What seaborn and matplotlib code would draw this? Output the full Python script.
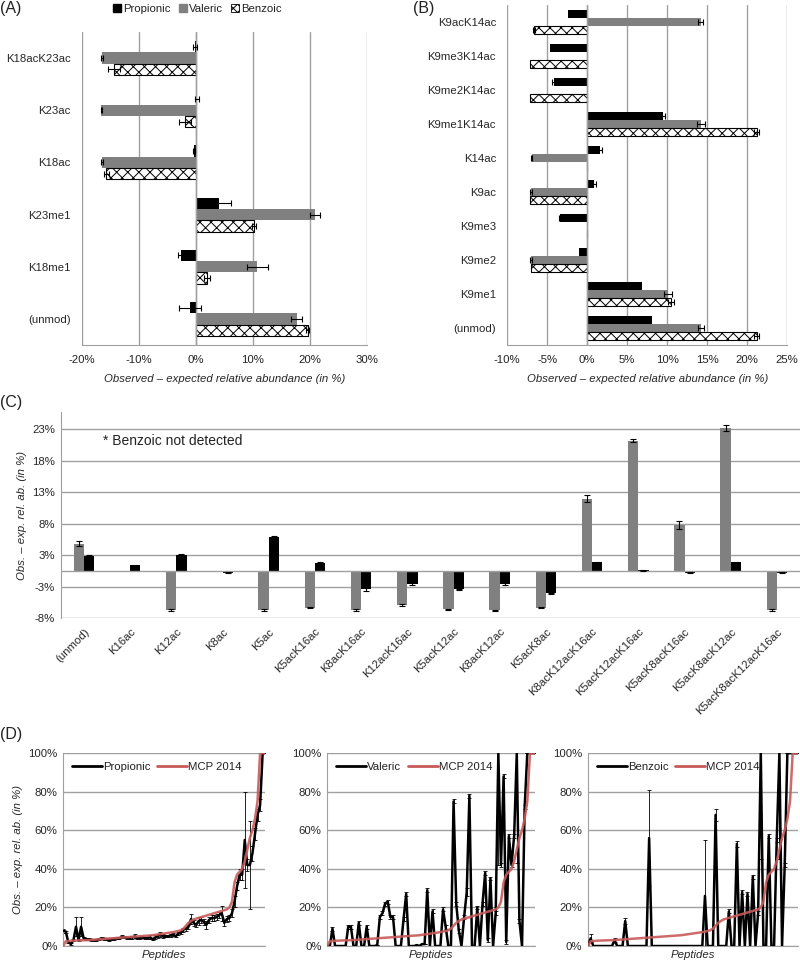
import numpy as np
import pandas as pd
import seaborn as sns
from matplotlib import pyplot as plt
from matplotlib.patches import Patch
from matplotlib.lines import Line2D
from matplotlib.ticker import FuncFormatter

ACIDS = ["Propionic", "Valeric", "Benzoic"]
PALETTE = {"Propionic": "#000000", "Valeric": "#808080", "Benzoic": "#ffffff"}
GRID = "#a0a0a0"
RED = "#c85a5a"
FS = 8.2

# (A) H4 peptides
cats_a = ["K18acK23ac", "K23ac", "K18ac", "K23me1", "K18me1", "(unmod)"]
prop_a = [-0.2, 0.2, -0.3, 4.1, -2.6, -1.0]
prop_a_err = [0.4, 0.3, 0.2, 2.0, 0.5, 1.9]
val_a = [-16.5, -16.6, -16.5, 20.9, 10.8, 17.7]
val_a_err = [0.1, 0.1, 0.1, 0.8, 1.8, 1.0]
benz_a = [-14.4, -1.9, -15.7, 10.2, 1.9, 19.6]
benz_a_err = [1.0, 1.0, 0.5, 0.3, 0.5, 0.3]

# (B) H3 K9/K14 peptides
cats_b = ["K9acK14ac", "K9me3K14ac", "K9me2K14ac", "K9me1K14ac", "K14ac",
          "K9ac", "K9me3", "K9me2", "K9me1", "(unmod)"]
prop_b = [-2.4, -4.6, -4.2, 9.5, 1.6, 0.9, -3.35, -1.0, 6.9, 8.1]
prop_b_err = [0, 0, 0.2, 0.2, 0.2, 0.2, 0.2, 0, 0, 0]
val_b = [14.2, 0, 0, 14.2, -6.95, -7.0, 0, -7.0, 10.1, 14.2]
val_b_err = [0.3, 0, 0, 0.5, 0.1, 0.1, 0, 0.1, 0.5, 0.4]
benz_b = [-6.65, -7.1, -7.1, 21.2, 0, -7.1, 0, -7.05, 10.5, 21.2]
benz_b_err = [0.1, 0, 0, 0.3, 0, 0, 0, 0, 0.4, 0.3]

# (C) H4 K5-K16 acetylations
cats_c = ["(unmod)", "K16ac", "K12ac", "K8ac", "K5ac", "K5acK16ac", "K8acK16ac",
          "K12acK16ac", "K5acK12ac", "K8acK12ac", "K5acK8ac", "K8acK12acK16ac",
          "K5acK12acK16ac", "K5acK8acK16ac", "K5acK8acK12ac", "K5acK8acK12acK16ac"]
val_c = [4.3, 0, -6.2, 0, -6.2, -5.8, -6.2, -5.4, -6.1, -6.25, -5.8, 11.5, 20.7, 7.3, 22.7, -6.2]
val_c_err = [0.4, 0, 0.1, 0, 0.1, 0.1, 0.1, 0.1, 0.1, 0.1, 0.1, 0.6, 0.2, 0.7, 0.5, 0.1]
prop_c = [2.4, 0.9, 2.6, -0.3, 5.4, 1.3, -2.8, -2.0, -2.9, -2.0, -3.55, 1.4, 0.1, -0.3, 1.4, -0.3]
prop_c_err = [0.2, 0.1, 0.1, 0.1, 0.1, 0.2, 0.3, 0.2, 0.1, 0.3, 0.1, 0.1, 0.1, 0.1, 0.1, 0.1]

# (D) all peptides, sorted by MCP 2014 reference
mcp_2014 = [0, 2.5, 2.6, 2.7, 2.8, 2.85, 2.9, 2.95, 3.0, 3.05,
            3.1, 3.2, 3.3, 3.4, 3.5, 3.6, 3.7, 3.8, 3.9, 4.0,
            4.1, 4.2, 4.3, 4.4, 4.5, 4.6, 4.7, 4.8, 4.9, 5.0,
            5.1, 5.2, 5.3, 5.4, 5.5, 5.6, 5.8, 6.0, 6.2, 6.4,
            6.6, 6.8, 7.0, 7.2, 7.5, 7.8, 8.2, 9.0, 10.5, 12.0,
            13.0, 13.8, 14.2, 14.6, 15.0, 15.4, 15.8, 16.2, 16.6, 17.0,
            17.4, 17.8, 18.2, 18.6, 19.0, 20.0, 23.0, 33.0, 37.0, 38.5,
            40.0, 44.0, 50.0, 56.0, 60.0, 66.0, 75.0, 100, 100, 100]
prop_d = [8, 7.5, 2, 1, 3, 10, 3, 10, 4, 3.5,
          3.5, 3.2, 3, 3, 3.5, 4, 3.8, 3.5, 3, 3.5,
          3.7, 4, 4, 4.8, 4.5, 4, 4.2, 4.5, 5, 4,
          4.3, 4.5, 4, 4.2, 4.5, 3.5, 4.5, 5, 6, 5,
          5, 5, 5.5, 6, 5, 6.5, 7, 8.5, 9, 10,
          14, 12, 11, 13, 13.5, 12.5, 11, 13.5, 14.5, 14.5,
          15, 16, 17, 12, 14, 14.5, 17, 23, 31, 37,
          37, 55, 42, 42, 48, 58, 68, 73, 100, 100]
prop_d_err = [1, 0.5, 0.5, 0.5, 0.5, 5, 0.5, 5, 0.5, 0.5,
              0.5, 0.5, 0.5, 0.5, 0.5, 0.5, 0.5, 0.5, 0.5, 0.5,
              0.5, 0.5, 0.5, 0.8, 0.5, 0.5, 0.5, 0.8, 1, 0.5,
              0.5, 0.5, 0.5, 0.5, 1, 0.5, 1, 1, 1.5, 1,
              0.5, 0.5, 1, 1, 0.5, 1, 1, 1, 1, 1,
              2.5, 1.5, 1, 2, 1.5, 1.5, 2, 1.5, 1.5, 1.5,
              1.5, 1.5, 4, 1.5, 1.5, 1.5, 2, 3, 2, 3,
              3, 25, 3, 23, 4, 3, 3, 3, 0, 0]
val_d = [0, 0, 9, 0, 0, 0, 0, 0, 10, 10,
         0, 0, 12, 0, 0, 10, 0, 0, 0, 0.5,
         15, 17, 22, 23, 15, 15, 0, 0, 0, 14,
         27, 0, 0, 0, 0.5, 0, 1, 1, 29, 0,
         18, 0, 0, 0, 19, 10, 0, 0, 75, 22,
         8, 0, 15, 28, 78, 0, 0, 20, 0, 22,
         38, 3, 35, 0, 17, 100, 42, 88, 2, 57,
         42, 57, 100, 13, 0, 72, 100, 100, 100, 100]
val_d_err = [0, 0, 1, 0, 0, 0, 0, 0, 1, 1,
             0, 0, 1, 0, 0, 1, 0, 0, 0, 0,
             1, 1, 1, 1, 1, 1, 0, 0, 0, 1,
             1, 0, 0, 0, 0, 0, 0, 0, 1, 0,
             1, 0, 0, 0, 1, 1, 0, 0, 1, 1,
             1, 0, 1, 2, 1, 0, 0, 1, 0, 1,
             1, 1, 1, 0, 1, 58, 1, 1, 1, 1,
             1, 1, 57, 1, 0, 1, 0, 0, 0, 0]
benz_d = [0, 4, 0, 0, 0, 0, 0, 0, 0, 0,
          3, 0, 0, 0, 13, 0, 0, 0, 0, 0,
          0, 0, 0, 56, 0, 0, 0, 0, 0, 0,
          0, 0, 0, 0, 0, 0, 0, 0, 0, 0,
          0, 0, 0, 0, 26, 0, 0, 0, 68, 0,
          0, 0, 0, 18, 0, 0, 53, 0, 28, 0,
          27, 0, 36, 0, 17, 100, 0, 0, 57, 0,
          0, 55, 100, 0, 42, 100, 100, 100, 100, 100]
benz_d_err = [0, 2, 0, 0, 0, 0, 0, 0, 0, 0,
              1, 0, 0, 0, 1.5, 0, 0, 0, 0, 0,
              0, 0, 0, 25, 0, 0, 0, 0, 0, 0,
              0, 0, 0, 0, 0, 0, 0, 0, 0, 0,
              0, 0, 0, 0, 29, 0, 0, 0, 3, 0,
              0, 0, 0, 1, 0, 0, 1.5, 0, 1, 0,
              1, 0, 1, 0, 1, 55, 0, 0, 1, 0,
              0, 1, 55, 0, 1, 0, 0, 0, 0, 0]


def excel_pct(v, _pos=None):
    """Format like Excel: round half away from zero."""
    r = int(np.sign(v) * np.floor(abs(v) + 0.5))
    return f"{r}%"


def long_frame(cats, series):
    rows = []
    for acid, (vals, errs) in series.items():
        for cat, v, e in zip(cats, vals, errs):
            rows.append({"peptide": cat, "acid": acid, "value": v, "err": e})
    return pd.DataFrame(rows)


def bar_panel(ax, cats, series, horizontal, width):
    df = long_frame(cats, series)
    hue_order = list(series.keys())
    pal = {k: PALETTE[k] for k in hue_order}
    if horizontal:
        sns.barplot(data=df, x="value", y="peptide", hue="acid", order=cats,
                    hue_order=hue_order, palette=pal, orient="h", width=width,
                    saturation=1, errorbar=None, legend=False, linewidth=0, ax=ax)
        ax.set_ylim(len(cats) - 0.5, -0.5)
    else:
        sns.barplot(data=df, x="peptide", y="value", hue="acid", order=cats,
                    hue_order=hue_order, palette=pal, width=width,
                    saturation=1, errorbar=None, legend=False, linewidth=0, ax=ax)
        ax.set_xlim(-0.5, len(cats) - 0.5)

    for acid, cont in zip(hue_order, ax.containers):
        sub = df[df["acid"] == acid].set_index("peptide").loc[cats]
        for bar, v, e in zip(cont, sub["value"], sub["err"]):
            if acid == "Benzoic":
                bar.set_facecolor("white")
                bar.set_edgecolor("black")
                bar.set_linewidth(0.8)
                bar.set_hatch("xxx")
            if e <= 0:
                continue
            if horizontal:
                yc = bar.get_y() + bar.get_height() / 2
                ax.errorbar(v, yc, xerr=e, fmt="none", ecolor="black",
                            elinewidth=0.8, capsize=2, capthick=0.8)
            else:
                xc = bar.get_x() + bar.get_width() / 2
                ax.errorbar(xc, v, yerr=e, fmt="none", ecolor="black",
                            elinewidth=0.8, capsize=2, capthick=0.8)


def style_hbar(ax, xlim, step):
    ax.set_xlim(*xlim)
    ax.set_xticks(np.arange(xlim[0], xlim[1] + 0.1, step))
    ax.xaxis.set_major_formatter(FuncFormatter(excel_pct))
    ax.grid(axis="x", color=GRID, lw=1)
    ax.grid(axis="y", visible=False)
    ax.set_axisbelow(True)
    ax.axvline(0, color=GRID, lw=1, zorder=1)
    for s in ["top", "right", "left"]:
        ax.spines[s].set_visible(False)
    ax.spines["bottom"].set_color(GRID)
    ax.tick_params(axis="x", colors="#222222", length=4, color=GRID, labelsize=FS)
    ax.tick_params(axis="y", length=0, labelsize=FS, pad=8)
    ax.set_ylabel("")
    ax.set_xlabel("Observed \u2013 expected relative abundance (in %)",
                  fontsize=FS, style="italic", labelpad=6)


sns.set_style("white")
plt.rcParams["font.family"] = ["Liberation Sans", "DejaVu Sans"]
plt.rcParams["axes.unicode_minus"] = False
plt.rcParams["hatch.linewidth"] = 0.7
plt.rcParams["text.color"] = "#222222"

fig = plt.figure(figsize=(8, 9.69), dpi=100)

# (A)
ax_a = fig.add_axes([0.1025, 0.644, 0.356, 0.323])
bar_panel(ax_a, cats_a, {"Propionic": (prop_a, prop_a_err),
                         "Valeric": (val_a, val_a_err),
                         "Benzoic": (benz_a, benz_a_err)}, True, 0.65)
style_hbar(ax_a, (-20, 30), 10)

handles = [Patch(facecolor="black", edgecolor="black"),
           Patch(facecolor="#808080", edgecolor="#808080"),
           Patch(facecolor="white", edgecolor="black", hatch="xxxx", lw=0.6)]
fig.legend(handles, ACIDS, loc="center", bbox_to_anchor=(0.247, 0.9905), ncol=3,
           frameon=False, fontsize=FS, handlelength=0.7, handleheight=0.7,
           handletextpad=0.2, columnspacing=0.7)

# (B)
ax_b = fig.add_axes([0.634, 0.644, 0.350, 0.351])
bar_panel(ax_b, cats_b, {"Propionic": (prop_b, prop_b_err),
                         "Valeric": (val_b, val_b_err),
                         "Benzoic": (benz_b, benz_b_err)}, True, 0.72)
style_hbar(ax_b, (-10, 25), 5)

# (C)
ax_c = fig.add_axes([0.076, 0.362, 0.924, 0.2126])
bar_panel(ax_c, cats_c, {"Valeric": (val_c, val_c_err),
                         "Propionic": (prop_c, prop_c_err)}, False, 0.45)
ax_c.set_ylim(-7.5, 25.2)
ax_c.set_yticks(np.arange(-7.5, 23, 5))
ax_c.yaxis.set_major_formatter(FuncFormatter(excel_pct))
ax_c.grid(axis="y", color=GRID, lw=1)
ax_c.grid(axis="x", visible=False)
ax_c.set_axisbelow(True)
ax_c.axhline(0, color=GRID, lw=1, zorder=1)
for s in ["top", "right", "bottom"]:
    ax_c.spines[s].set_visible(False)
ax_c.spines["left"].set_color(GRID)
ax_c.tick_params(axis="y", length=0, labelsize=FS, pad=4)
ax_c.tick_params(axis="x", length=0, labelsize=FS, pad=6)
for lab in ax_c.get_xticklabels():
    lab.set_rotation(45)
    lab.set_ha("right")
    lab.set_rotation_mode("anchor")
ax_c.set_xlabel("")
ax_c.set_ylabel("Obs. \u2013 exp. rel. ab. (in %)", fontsize=FS, style="italic",
                labelpad=4)
ax_c.text(0.057, 0.86, "* Benzoic not detected", transform=ax_c.transAxes,
          fontsize=10, va="center")

# (D)
trend_axes = [
    (fig.add_axes([0.079, 0.0237, 0.2525, 0.199]), "Propionic", prop_d, prop_d_err),
    (fig.add_axes([0.409, 0.0237, 0.260, 0.199]), "Valeric", val_d, val_d_err),
    (fig.add_axes([0.735, 0.0237, 0.2625, 0.199]), "Benzoic", benz_d, benz_d_err),
]
for ind, (ax, name, vals, errs) in enumerate(trend_axes):
    idx = np.arange(len(vals))
    ax.errorbar(idx, vals, yerr=errs, fmt="none", ecolor="black",
                elinewidth=0.6, capsize=1.5, capthick=0.6, zorder=2)
    sns.lineplot(x=idx, y=vals, color="black", lw=1.8, ax=ax, zorder=3)
    sns.lineplot(x=idx, y=mcp_2014, color=RED, lw=1.8, ax=ax, zorder=4, alpha=0.9)
    ax.set_xlim(0, len(vals) - 1)
    ax.set_ylim(0, 100)
    ax.set_yticks(range(0, 101, 20))
    ax.yaxis.set_major_formatter(FuncFormatter(lambda v, p: f"{v:.0f}%"))
    ax.set_xticks([])
    ax.grid(axis="y", color=GRID, lw=1)
    ax.grid(axis="x", visible=False)
    ax.set_axisbelow(True)
    for s in ["top", "right"]:
        ax.spines[s].set_visible(False)
    ax.spines["left"].set_color(GRID)
    ax.spines["bottom"].set_color(GRID)
    ax.tick_params(axis="y", length=0, labelsize=FS, pad=4)
    ax.set_xlabel("Peptides", fontsize=FS, style="italic", labelpad=3)
    if ind == 0:
        ax.set_ylabel("Obs. \u2013 exp. rel. ab. (in %)", fontsize=FS,
                      style="italic", labelpad=4)
    else:
        ax.set_ylabel("")
    ax.legend([Line2D([], [], color="black", lw=2), Line2D([], [], color=RED, lw=2)],
              [name, "MCP 2014"], loc="upper left", bbox_to_anchor=(0.0, 1.0),
              ncol=2, frameon=False, fontsize=FS, handlelength=2.6,
              handletextpad=0.1, columnspacing=0.6, borderaxespad=0.4)

# panel letters
for lbl, x, y in [("(A)", 0.0, 0.999), ("(B)", 0.516, 0.999),
                  ("(C)", 0.0, 0.592), ("(D)", 0.0, 0.250)]:
    fig.text(x, y, lbl, fontsize=11.5, va="top", ha="left")

plt.savefig("out.png", dpi=100)
plt.close()
